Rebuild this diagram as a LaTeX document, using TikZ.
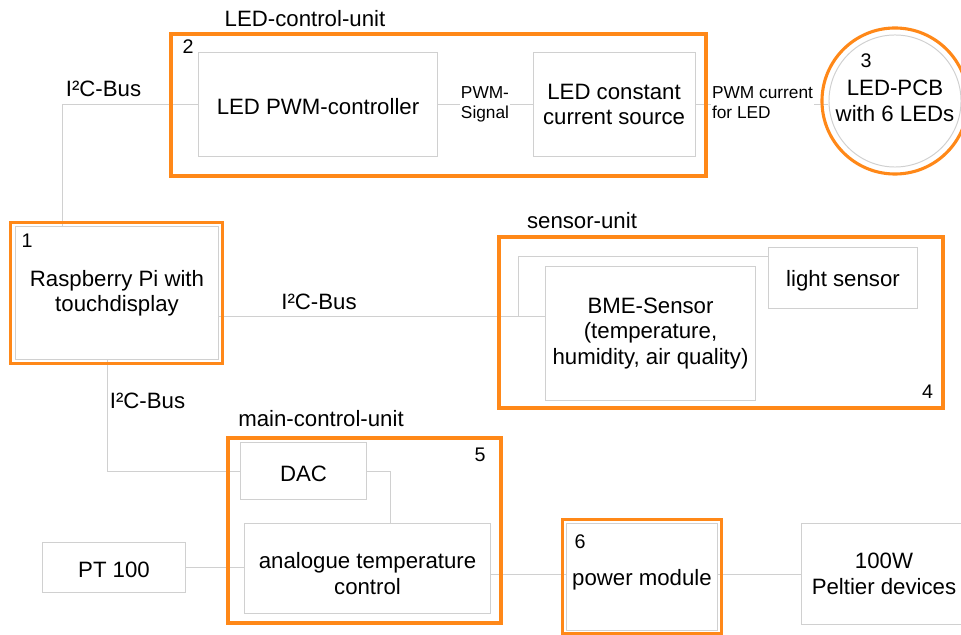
\documentclass[tikz,border=0pt]{standalone}
\usepackage{fontspec}
\setmainfont{Liberation Sans}
\usetikzlibrary{positioning}
\definecolor{unitorange}{RGB}{255,136,24}
\definecolor{wiregray}{RGB}{208,208,208}
\newcommand\capstrut{\rule{0pt}{0.95em}} % a bit of room above the first line
\tikzset{
    box/.style={draw=wiregray, line width=0.7pt, inner sep=0pt, align=center}, % plain outline
    block/.style={box, execute at begin node=\capstrut}, % rectangular block
    unit/.style={draw=unitorange, line width=2.2pt}, % orange frame of a unit
    wire/.style={draw=wiregray, line width=0.7pt}, % connection line
    tag/.style={inner sep=0pt, anchor=base}, % free text, placed on its baseline
    small/.style={font=\fontsize{12.3}{14.5}\selectfont, fill=white, inner sep=0.5pt, align=left}, % text on a wire
    num/.style={tag, font=\fontsize{14}{16}\selectfont}, % unit number
}

\begin{document}
\begin{tikzpicture}[x=0.025cm, y=-0.025cm, font=\fontsize{15.8}{18}\selectfont]
    \useasboundingbox (0,0) rectangle (961,635);
    % blocks
    \node[block, minimum width=5.95cm, minimum height=2.575cm] (pwm) at (318,104.5) {LED PWM-controller};
    \node[block, minimum width=4.05cm, minimum height=2.575cm, right=2.375cm of pwm] (ccs) {LED constant\\current source};
    \node[box, circle, minimum size=3.3cm] (led) at (895,101) {LED-PCB\\with 6 LEDs};
    \node[block, minimum width=5.05cm, minimum height=3.3cm] (pi) at (117,293) {Raspberry Pi with\\touchdisplay};
    \node[block, minimum width=5.225cm, minimum height=3.325cm] (bme) at (650.5,333.5) {BME-Sensor\\(temperature,\\humidity, air quality)};
    \node[block, minimum width=3.7cm, minimum height=1.5cm] (light) at (843,278) {light sensor};
    \node[block, minimum width=3.125cm, minimum height=1.4cm] (dac) at (303.5,471) {DAC};
    \node[block, minimum width=6.125cm, minimum height=2.225cm] (atc) at (367.5,568.5) {};
    \node[block, draw=none] (atctext) at ([shift={(0,5)}]atc.center) {analogue temperature\\control};
    \node[block, minimum width=3.55cm, minimum height=1.25cm] (pt) at (114,567) {PT 100};
    \node[block, minimum width=3.75cm, minimum height=2.65cm] (power) at (642,577) {power module};
    \node[block, minimum width=4.1cm, minimum height=2.5cm] (peltier) at (884,574) {100W\\Peltier devices};

    % bends of the wires
    \coordinate (busled) at (62,0);
    \coordinate (busmid) at (0,316);
    \coordinate (tap) at (518,256);
    \coordinate (busdac) at (107,0);
    \coordinate (drop) at (390,0);
    \coordinate (buspow) at (0,574);

    \draw[wire] (pwm.west) -| (busled |- pi.north);
    \draw[wire] (pwm) -- (ccs);
    \draw[wire] (ccs.east) -- (ccs.east -| led.west);
    \draw[wire] (pi.east |- busmid) -- (bme.west |- busmid);
    \draw[wire] (tap |- busmid) -- (tap) -- (light.west |- tap);
    \draw[wire] (busdac |- pi.south) |- (dac.west);
    \draw[wire] (dac.east) -| (drop |- atc.north);
    \draw[wire] (pt.east) -- (pt.east -| atc.west);
    \draw[wire] (atc.east |- buspow) -- (power.west |- buspow);
    \draw[wire] (power.east |- buspow) -- (peltier.west |- buspow);

    % units
    \draw[unit] (171,34) rectangle (706,176);
    \draw[unit] (499,237) rectangle (943,408);
    \draw[unit] (228,438) rectangle (501,623);
    \draw[unit] (led.center) circle[radius=1.825cm];
    \draw[unit] ([shift={(-5,-4)}]pi.north west) rectangle ([shift={(4,4)}]pi.south east);
    \draw[unit] ([shift={(-4,-4)}]power.north west) rectangle ([shift={(4,3)}]power.south east);

    % labels
    \node[tag] (ledunit) at (305,27) {LED-control-unit};
    \node[tag] (sensorunit) at (582,229) {sensor-unit};
    \node[tag] (mainunit) at (321,427) {main-control-unit};
    \node[tag] (bustop) at (103.5,97) {I²C-Bus};
    \node[tag] (busright) at (319,310) {I²C-Bus};
    \node[tag] (busdown) at (147.5,409) {I²C-Bus};
    \node[small] (pwmsig) at (485,104.6) {PWM-\\Signal};
    \node[small] (pwmcur) at (762.5,102.5) {PWM current\\for LED};
    \node[num] (n1) at (27,248) {1};
    \node[num] (n2) at (188,54) {2};
    \node[num] (n3) at (866,68) {3};
    \node[num] (n4) at (927.5,399) {4};
    \node[num] (n5) at (480,462) {5};
    \node[num] (n6) at (580,548) {6};
\end{tikzpicture}
\end{document}
